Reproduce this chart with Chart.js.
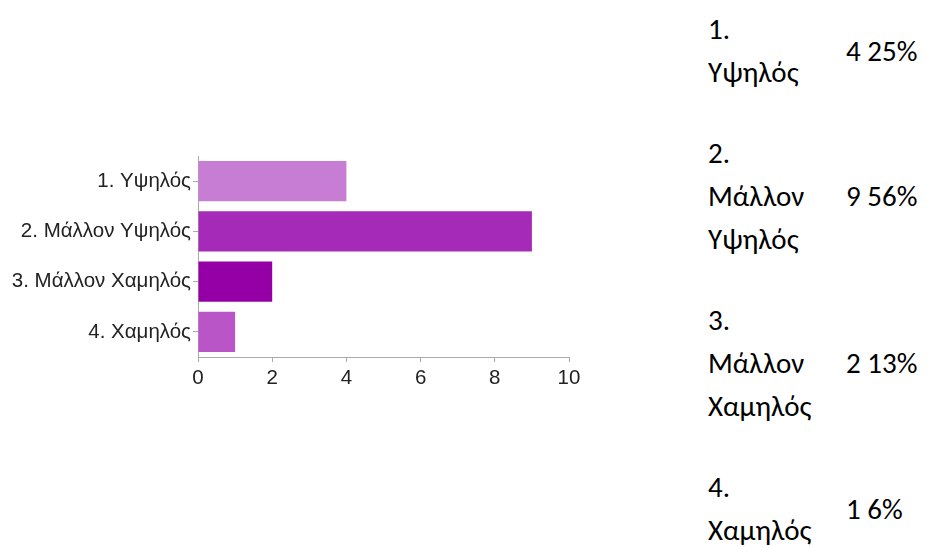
<!DOCTYPE html>
<html>
<head>
    <meta charset="utf-8">
    <title>Bar chart</title>
    <script src="https://cdn.jsdelivr.net/npm/chart.js@4.4.0/dist/chart.umd.min.js"></script>
    <style>
        body { margin: 0; background: #fff; }
        #wrap { position: absolute; left: 0; top: 0; width: 600px; height: 547px; }
        #summary { position: absolute; left: 700px; top: 0px; border-collapse: collapse;
            font-family: Carlito, Lato, "Open Sans", sans-serif; font-size: 29px; color: #000; }
        #summary td { padding: 8px 8px 30px 8px; vertical-align: middle; line-height: 43px; white-space: nowrap; }
        #summary td.lab { width: 122px; }
    </style>
</head>
<body>
    <div id="wrap"><canvas id="myChart"></canvas></div>
    <table id="summary"></table>

    <script>
        // data
        var labels = ['1. Υψηλός', '2. Μάλλον Υψηλός', '3. Μάλλον Χαμηλός', '4. Χαμηλός'];
        var counts = [4, 9, 2, 1];
        var percents = ['25%', '56%', '13%', '6%'];
        var xTicks = [0, 2, 4, 6, 8, 10];
        var barColors = ['#c87dd4', '#a62ab8', '#9500a6', '#b955c6'];

        // summary table on the right
        var table = document.getElementById('summary');
        labels.forEach(function(lab, i) {
            var tr = document.createElement('tr');
            var a = document.createElement('td');
            a.className = 'lab';
            a.innerHTML = lab.split(' ').join('<br>');
            var b = document.createElement('td');
            b.textContent = counts[i] + ' ' + percents[i];
            tr.appendChild(a);
            tr.appendChild(b);
            table.appendChild(tr);
        });

        const ctx = document.getElementById('myChart').getContext('2d');
        const myChart = new Chart(ctx, {
            type: 'bar',
            data: {
                labels: labels,
                datasets: [{
                    data: counts,
                    backgroundColor: barColors,
                    borderWidth: 0,
                    barPercentage: 0.8,
                    categoryPercentage: 1.0
                }]
            },
            options: {
                indexAxis: 'y',
                responsive: true,
                maintainAspectRatio: false,
                animation: false,
                layout: { padding: { left: 0, right: 31, top: 156, bottom: 155 } },
                plugins: { legend: { display: false }, tooltip: { enabled: false } },
                scales: {
                    x: {
                        min: 0,
                        max: 10,
                        afterBuildTicks: function(scale) {
                            scale.ticks = xTicks.map(function(v) { return { value: v }; });
                        },
                        afterFit: function(scale) { scale.height = 35; },
                        border: { color: '#aaa' },
                        grid: { drawOnChartArea: false, drawTicks: true, tickLength: 5, color: '#aaa' },
                        ticks: { color: '#222', padding: 4, maxRotation: 0,
                            font: { family: 'Liberation Sans, Arial', size: 20.5 } }
                    },
                    y: {
                        afterFit: function(scale) { scale.width = 198; },
                        border: { color: '#aaa' },
                        grid: { offset: false, drawOnChartArea: false, drawTicks: true, tickLength: 5, color: '#aaa' },
                        ticks: { color: '#222', padding: 2,
                            font: { family: 'Liberation Sans, Arial', size: 20.5 } }
                    }
                }
            }
        });
    </script>
</body>
</html>
